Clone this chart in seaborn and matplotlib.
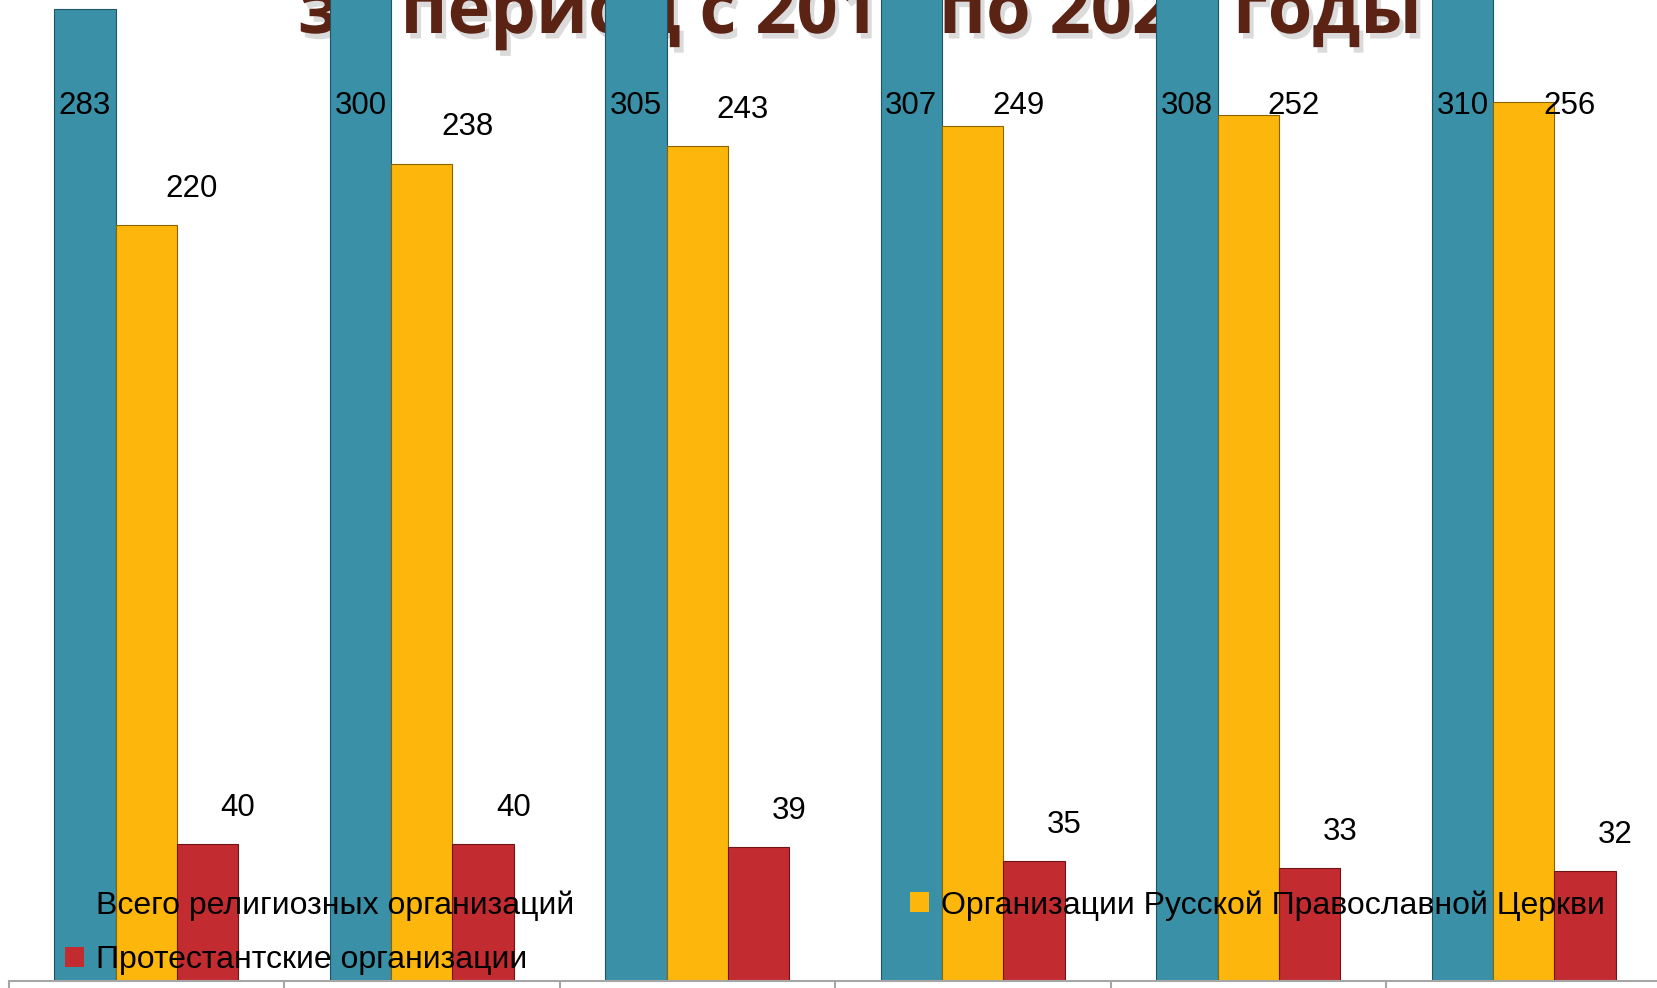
import matplotlib
matplotlib.use("Agg")
import matplotlib.pyplot as plt
import matplotlib.patheffects as pe
from matplotlib.patches import Patch
import pandas as pd
import seaborn as sns

# values
years = ['2016', '2017', '2018', '2019', '2020', '2021']
series = ['Всего религиозных организаций',
          'Организации Русской Православной Церкви',
          'Протестантские организации']
total_orgs = [283, 300, 305, 307, 308, 310]
orthodox_orgs = [220, 238, 243, 249, 252, 256]
protestant_orgs = [40, 40, 39, 35, 33, 32]
title_text = 'за период с 2016 по 2021 годы'

colors = ['#3990A7', '#FDB70C', '#C22B30']
edges = ['#1E5565', '#8A6400', '#6E1518']

df = pd.DataFrame({
    'year': years * 3,
    'series': [series[0]] * 6 + [series[1]] * 6 + [series[2]] * 6,
    'value': total_orgs + orthodox_orgs + protestant_orgs,
})

sns.set_theme(style='white')
plt.rcParams['font.family'] = ['Liberation Sans', 'DejaVu Sans']

fig = plt.figure(figsize=(16.57, 9.88), dpi=100)
ax = fig.add_axes([8.5 / 1657, 7 / 988, 1653 / 1657, 981 / 988])

sns.barplot(data=df, x='year', y='value', hue='series', hue_order=series,
            palette=colors, width=0.668, gap=0, legend=False, ax=ax,
            saturation=1, err_kws={'linewidth': 0})

ymax = 285.6
ax.set_xlim(-0.5, 5.5)
ax.set_ylim(0, ymax)

# data labels (pushed inside the plot area when the bar runs off the top)
label_dx = [0.0, 0.165, 0.11]
for i, cont in enumerate(ax.containers):
    for bar in cont:
        bar.set_edgecolor(edges[i])
        bar.set_linewidth(0.8)
        h = bar.get_height()
        x = bar.get_x() + bar.get_width() / 2 + label_dx[i]
        y = min(h + 10.5, 254.6)
        ax.text(x, y, f'{h:.0f}', ha='center', va='center', fontsize=22.5,
                color='black', zorder=5)

# title line sits behind the bars
ax.text(298 / 1657, 1 - 33 / 988, title_text, transform=fig.transFigure,
        ha='left', va='baseline', fontsize=52, fontweight='bold',
        family=['Open Sans', 'DejaVu Sans'], color='#5A2314', zorder=0.5,
        clip_on=False,
        path_effects=[pe.withSimplePatchShadow(offset=(3, -4), shadow_rgbFace='#9A9A9A', alpha=0.35)])

# axes look
for side in ['left', 'right', 'top']:
    ax.spines[side].set_visible(False)
ax.spines['bottom'].set_color('#A6A6A6')
ax.spines['bottom'].set_linewidth(1.5)
ax.set_yticks([])
ax.set_xticks([i - 0.5 for i in range(7)])
ax.tick_params(axis='x', direction='out', length=9, width=1.5, color='#A6A6A6',
               labelbottom=False, bottom=True)
ax.set_xlabel('')
ax.set_ylabel('')

handles = [Patch(facecolor=colors[0], edgecolor='none', label=series[0]),
           Patch(facecolor=colors[2], edgecolor='none', label=series[2]),
           Patch(facecolor=colors[1], edgecolor='none', label=series[1])]
fig.legend(handles=handles, ncol=2, frameon=False, fontsize=23,
           labelcolor='black',
           loc='upper left', bbox_to_anchor=(65 / 1657, 1 - 890 / 988),
           borderpad=0, borderaxespad=0, handlelength=0.6, handleheight=0.6,
           handletextpad=0.37, columnspacing=10.5, labelspacing=0.78)

fig.savefig('out.png', dpi=100, facecolor='white')
